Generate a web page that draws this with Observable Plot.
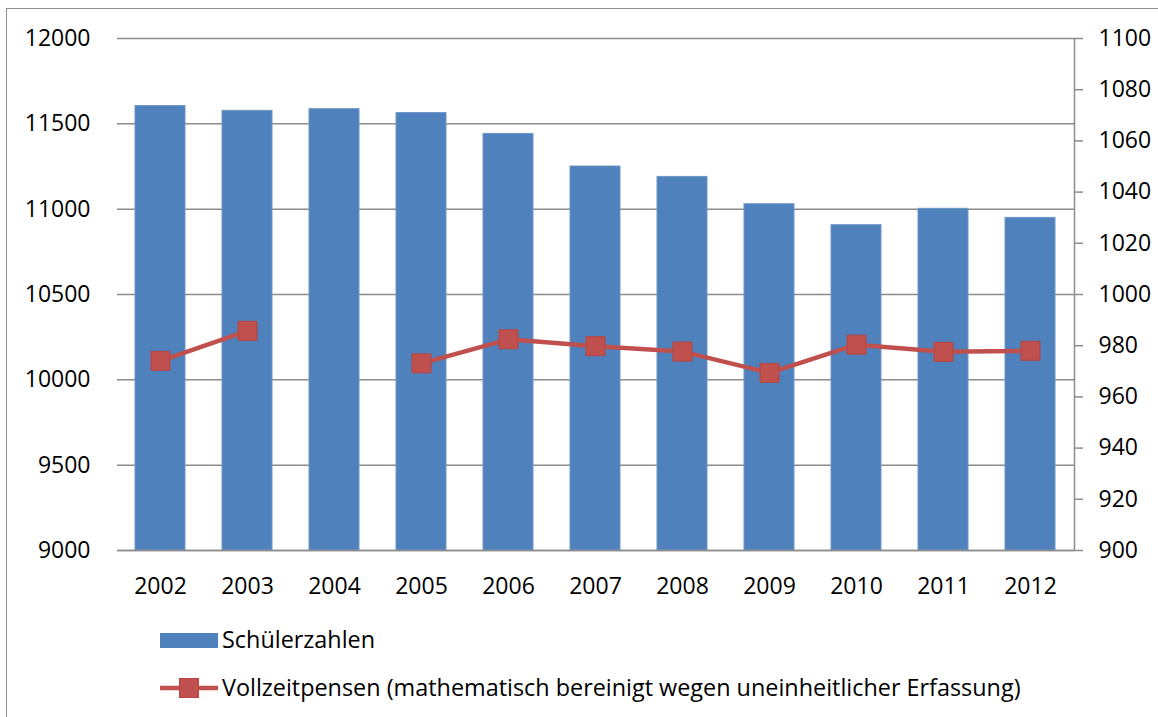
<!DOCTYPE html>
<html>
<head>
<meta charset="utf-8">
<script src="https://cdn.jsdelivr.net/npm/d3@7"></script>
<script src="https://cdn.jsdelivr.net/npm/@observablehq/plot@0.6"></script>
<style>
  html, body { margin: 0; padding: 0; background: #fff; width: 1158px; height: 717px; overflow: hidden; }
  body { position: relative; font-family: "Open Sans", sans-serif; }
  #border { position: absolute; left: 6px; top: 8px; width: 1170px; height: 730px; border: 1.5px solid #8c8c8c; box-sizing: border-box; }
  #chart { position: absolute; left: 0; top: 0; }
  .leg { position: absolute; left: 160px; font-size: 23.4px; color: #000; white-space: nowrap; }
  .leg svg { position: absolute; left: 0; }
  .leg span { position: absolute; left: 62px; top: -2px; }
</style>
</head>
<body>
<div id="border"></div>
<div id="chart"></div>
<div class="leg" id="leg1" style="top:625px;"></div>
<div class="leg" id="leg2" style="top:673px;"></div>
<script>
const years = ["2002","2003","2004","2005","2006","2007","2008","2009","2010","2011","2012"];
const schueler = [11604, 11576, 11586, 11563, 11441, 11250, 11189, 11029, 10906, 11002, 10949];
const pensen = [974.1, 985.8, null, 973.1, 982.5, 979.8, 977.7, 969.4, 980.4, 977.6, 978.0];
const leftTicks = [9000, 9500, 10000, 10500, 11000, 11500, 12000];
const rightTicks = [900, 920, 940, 960, 980, 1000, 1020, 1040, 1060, 1080, 1100];
const seriesNames = ["Schülerzahlen", "Vollzeitpensen (mathematisch bereinigt wegen uneinheitlicher Erfassung)"];

const blue = "#4F81BD", red = "#C0504D", grid = "#8c8c8c";
const leftDom = [9000, 12000], rightDom = [900, 1100];
const toLeft = v => leftDom[0] + (v - rightDom[0]) * (leftDom[1] - leftDom[0]) / (rightDom[1] - rightDom[0]);
const fromLeft = v => rightDom[0] + (v - leftDom[0]) * (rightDom[1] - rightDom[0]) / (leftDom[1] - leftDom[0]);

const bars = years.map((y, i) => ({year: y, value: schueler[i]}));
const line = years.map((y, i) => ({year: y, value: pensen[i] == null ? NaN : toLeft(pensen[i])}));
const pts = line.filter(d => !isNaN(d.value));

const chart = Plot.plot({
  width: 1158,
  height: 610,
  marginLeft: 117,
  marginRight: 84,
  marginTop: 38,
  marginBottom: 60,
  style: {fontFamily: "Open Sans", fontSize: "23px", color: "#000", background: "transparent"},
  x: {domain: years, paddingInner: 0.425, paddingOuter: 0.2125, axis: null},
  y: {domain: leftDom, axis: null},
  marks: [
    Plot.gridY(leftTicks, {stroke: grid, strokeOpacity: 1, strokeWidth: 1.5}),
    Plot.barY(bars, {x: "year", y1: leftDom[0], y2: "value", fill: blue, stroke: "#7096c6", strokeWidth: 1}),
    Plot.frame({anchor: "right", stroke: grid, strokeWidth: 1.5}),
    Plot.ruleY([leftDom[0]], {stroke: grid, strokeWidth: 1.5}),
    Plot.axisY(leftTicks, {anchor: "left", label: null, tickSize: 0, tickPadding: 27, tickFormat: d => String(d), fontSize: 23}),
    Plot.axisY(rightTicks.map(toLeft), {anchor: "right", label: null, tickSize: 8, tickPadding: 16, stroke: grid, strokeWidth: 1.5, tickFormat: d => String(Math.round(fromLeft(d))), fontSize: 23}),
    Plot.axisX({label: null, tickSize: 0, tickPadding: 27, fontSize: 23}),
    Plot.line(line, {x: "year", y: "value", stroke: red, strokeWidth: 4.5}),
    Plot.dot(pts, {x: "year", y: "value", symbol: "square", r: 10.7, fill: red, stroke: "#b8433f", strokeWidth: 1})
  ]
});
document.getElementById("chart").appendChild(chart);

// Legend
const leg1 = document.getElementById("leg1");
leg1.innerHTML = `<svg width="60" height="30" style="top:0"><rect x="0" y="8" width="58" height="15" fill="${blue}"/></svg><span>${seriesNames[0]}</span>`;
const leg2 = document.getElementById("leg2");
leg2.innerHTML = `<svg width="60" height="30" style="top:0"><line x1="0" x2="58" y1="15" y2="15" stroke="${red}" stroke-width="4.5"/><rect x="19.5" y="5.5" width="19" height="19" fill="${red}" stroke="#b8433f"/></svg><span>${seriesNames[1]}</span>`;
</script>
</body>
</html>
